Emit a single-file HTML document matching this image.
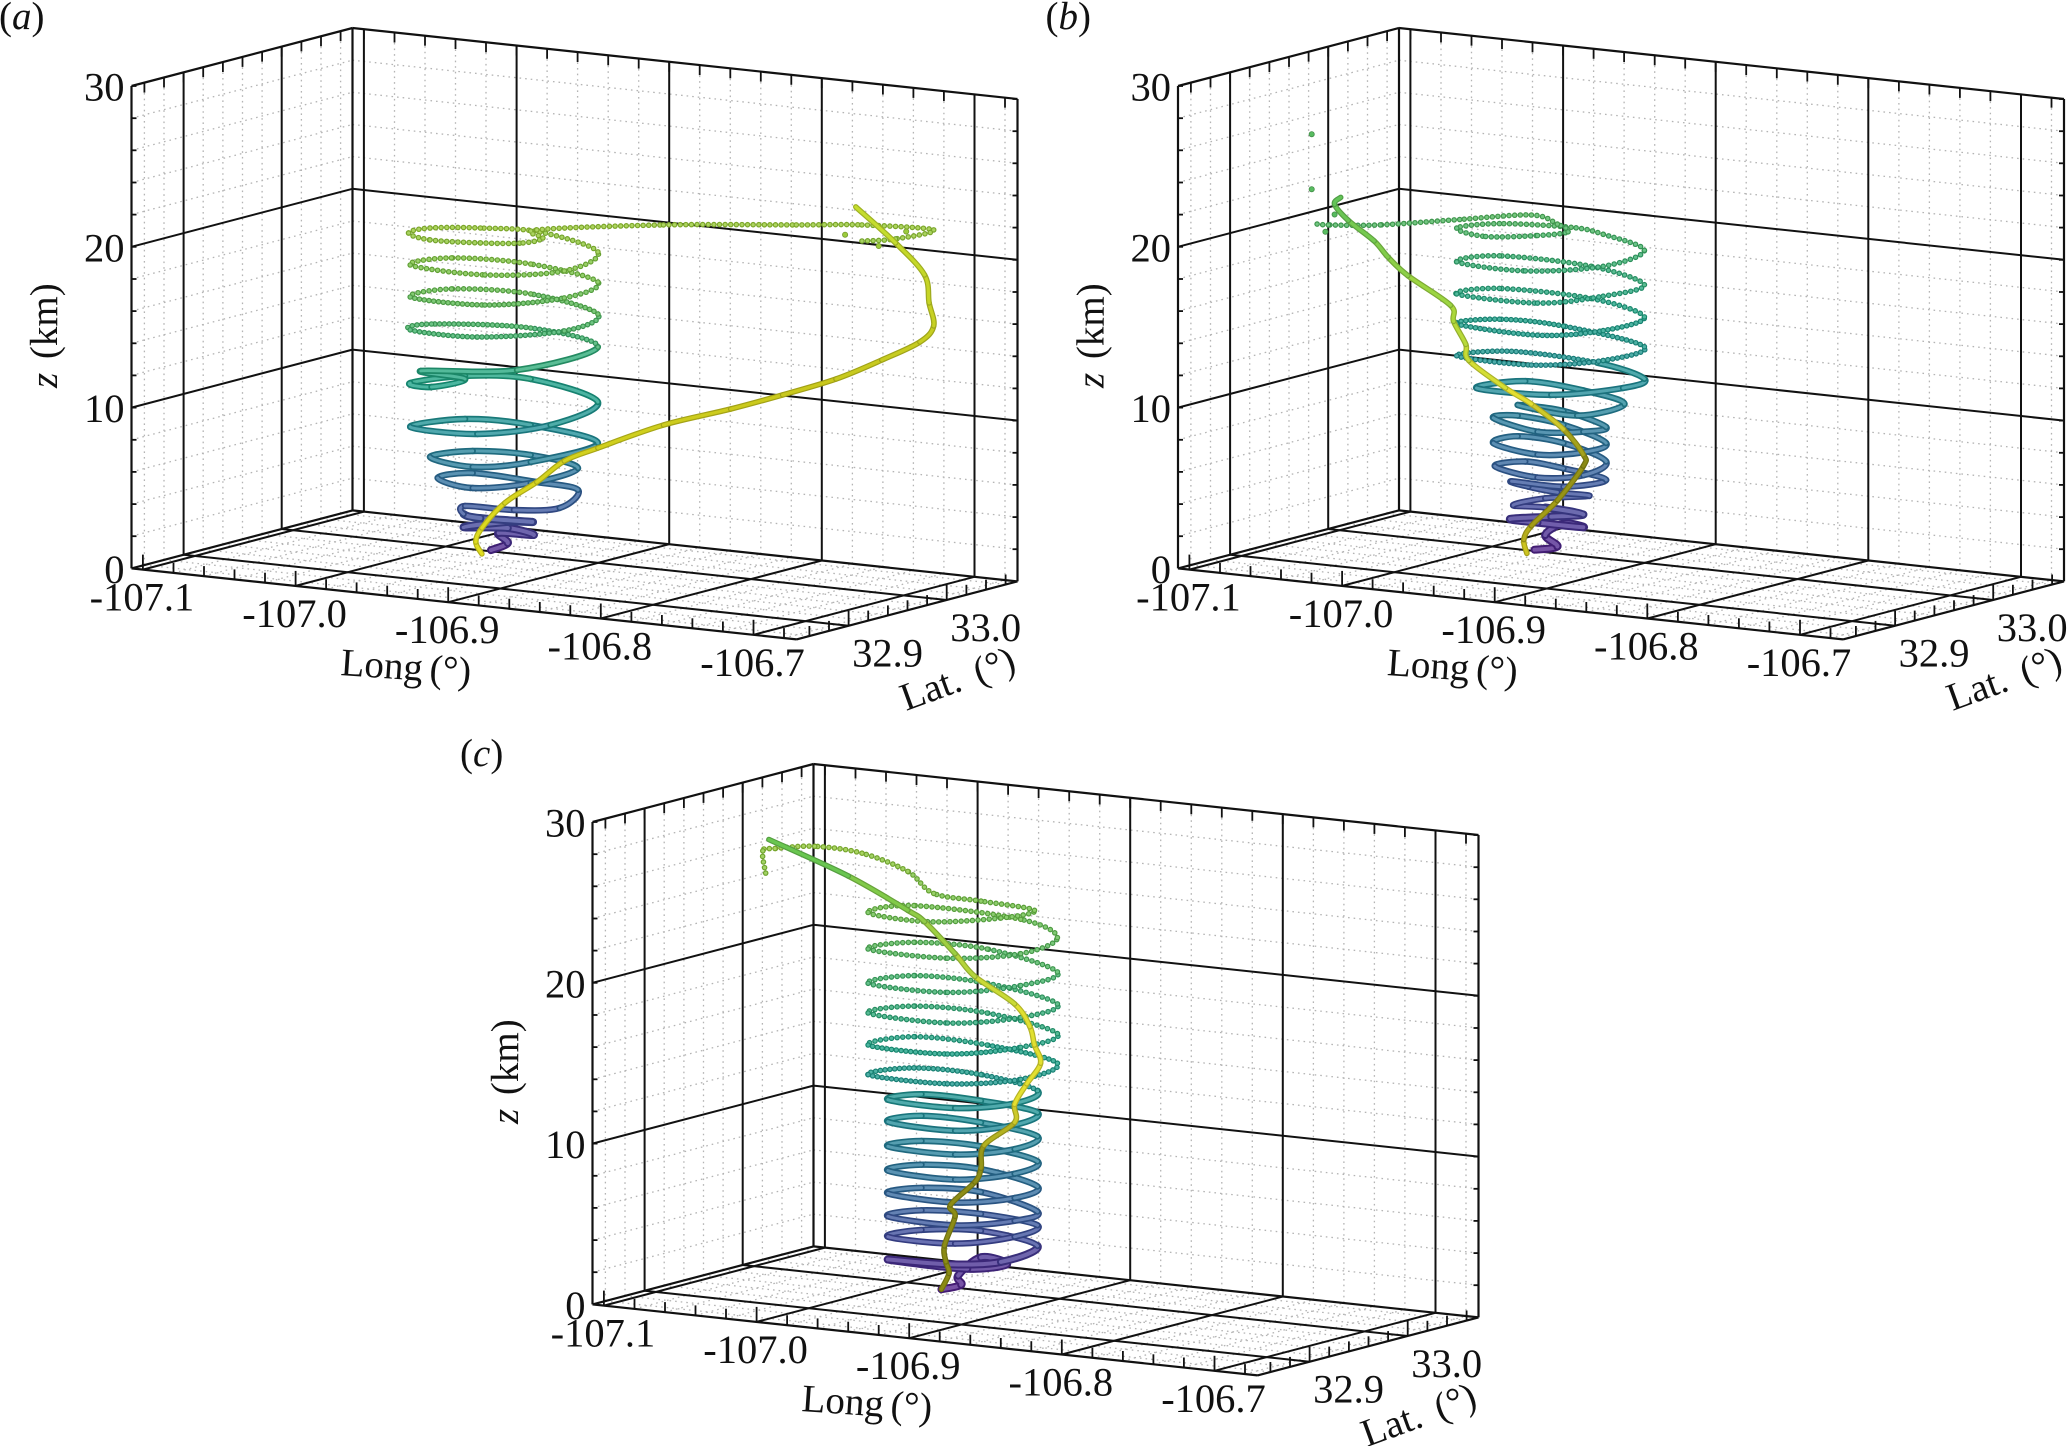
<!DOCTYPE html>
<html lang="en">
<head>
<meta charset="utf-8">
<title>Three 3D trajectory panels</title>
<style>
html,body{margin:0;padding:0;background:#fff;}
svg{display:block;}
text{font-family:"Liberation Serif","DejaVu Serif",serif;fill:#111;}
.tick-label{font-size:40.5px;}
.axis-title{font-size:39px;}
.panel-label{font-size:39px;}
.it{font-style:italic;}
</style>
</head>
<body>
<svg id="chart" xmlns="http://www.w3.org/2000/svg" width="2067" height="1446" viewBox="0 0 2067 1446">
  <rect x="0" y="0" width="2067" height="1446" fill="#fff"/>

  <g id="panel-a" transform="translate(0,0)">
    <text class="panel-label" x="-1" y="29">(<tspan class="it">a</tspan>)</text>
    <text class="axis-title" transform="translate(57,388) rotate(-90)" word-spacing="4"><tspan class="it">z</tspan> (km)</text>
    <text class="axis-title" transform="translate(340,675) rotate(4)" word-spacing="-3">Long (°)</text>
    <text class="axis-title" transform="translate(906,711) rotate(-20)" word-spacing="6">Lat. (°)</text>
  </g>

  <g id="panel-b" transform="translate(1046.5,0)">
    <text class="panel-label" x="-1" y="29">(<tspan class="it">b</tspan>)</text>
    <text class="axis-title" transform="translate(57,388) rotate(-90)" word-spacing="4"><tspan class="it">z</tspan> (km)</text>
    <text class="axis-title" transform="translate(340,675) rotate(4)" word-spacing="-3">Long (°)</text>
    <text class="axis-title" transform="translate(906,711) rotate(-20)" word-spacing="6">Lat. (°)</text>
  </g>

  <g id="panel-c" transform="translate(461,736)">
    <text class="panel-label" x="-1" y="30">(<tspan class="it">c</tspan>)</text>
    <text class="axis-title" transform="translate(57,388) rotate(-90)" word-spacing="4"><tspan class="it">z</tspan> (km)</text>
    <text class="axis-title" transform="translate(340,675) rotate(4)" word-spacing="-3">Long (°)</text>
    <text class="axis-title" transform="translate(906,711) rotate(-20)" word-spacing="6">Lat. (°)</text>
  </g>
</svg>

<script>
// ---------- axis tick values ----------
const lonTicks = [-107.1, -107.0, -106.9, -106.8, -106.7];
const lonTickLabels = ['-107.1', '-107.0', '-106.9', '-106.8', '-106.7'];
const latTicks = [32.9, 33.0];
const latTickLabels = ['32.9', '33.0'];
const zTicks = [0, 10, 20, 30];
const zTickLabels = ['0', '10', '20', '30'];

// ---------- panel (a) series: longitude (deg) and height (km), read along the mid-latitude plane ----------
const aHelixLon = [-106.944,-106.933,-106.939,-106.916,-106.933,-106.962,-106.933,-106.917,-106.951,-106.962,-106.961,-106.929,-106.899,-106.887,-106.914,-106.956,-106.979,-106.956,-106.918,-106.887,-106.918,-106.956,-106.984,-106.956,-106.918,-106.874,-106.918,-106.961,-106.997,-106.953,-106.905,-106.874,-106.918,-106.961,-106.997,-106.983,-106.961,-106.990,-106.927,-106.874,-106.918,-106.983,-106.997,-106.953,-106.896,-106.874,-106.918,-106.970,-106.997,-106.948,-106.896,-106.874,-106.918,-106.970,-106.997,-106.948,-106.896,-106.874,-106.912,-106.951,-106.984,-106.998,-106.984,-106.951,-106.923,-106.910,-106.914,-106.831,-106.744,-106.701,-106.654,-106.679,-106.701];
const aHelixZ = [1.14,1.58,2.20,2.08,2.51,2.57,2.89,2.89,3.13,3.38,3.88,3.63,3.76,4.88,5.37,5.93,5.62,5.00,5.31,6.24,7.05,7.30,6.93,6.31,6.62,7.80,8.92,9.29,8.80,8.36,8.92,10.35,11.78,11.97,11.53,11.28,11.78,12.28,12.34,13.77,14.95,15.20,14.83,14.39,14.77,15.82,17.07,17.38,16.88,16.38,16.82,17.81,18.93,19.31,18.87,18.25,18.50,19.68,20.92,21.17,21.17,20.86,20.43,20.24,20.24,20.55,21.05,21.36,21.36,21.36,21.05,20.49,20.36];
const aTrackLon = [-106.950,-106.954,-106.950,-106.935,-106.914,-106.896,-106.874,-106.831,-106.787,-106.753,-106.718,-106.688,-106.663,-106.654,-106.657,-106.660,-106.679,-106.705];
const aTrackZ = [0.90,1.64,2.51,4.07,5.37,6.68,7.49,8.92,9.91,10.79,11.78,12.96,14.08,15.08,16.51,18.25,20.24,22.48];
const aStrayLon = [-106.690,-106.712,-106.672];
const aStrayZ = [20.05,20.75,20.95];

// ---------- panel (b) series ----------
const bHelixLon = [-106.946,-106.931,-106.939,-106.927,-106.914,-106.944,-106.962,-106.935,-106.914,-106.939,-106.960,-106.939,-106.910,-106.931,-106.950,-106.961,-106.927,-106.899,-106.927,-106.952,-106.972,-106.944,-106.914,-106.899,-106.927,-106.957,-106.973,-106.944,-106.914,-106.899,-106.927,-106.957,-106.973,-106.944,-106.914,-106.899,-106.927,-106.957,-106.918,-106.887,-106.914,-106.952,-106.984,-106.935,-106.888,-106.874,-106.905,-106.961,-106.997,-106.948,-106.901,-106.874,-106.927,-106.969,-106.997,-106.944,-106.901,-106.874,-106.909,-106.969,-106.997,-106.944,-106.901,-106.874,-106.909,-106.969,-106.997,-106.952,-106.901,-106.874,-106.901,-106.922,-106.969,-106.997,-106.978,-106.944,-106.924,-106.931,-106.948,-106.995,-107.047,-107.081,-107.090];
const bHelixZ = [1.16,1.36,2.08,2.79,2.56,2.85,3.08,3.22,3.36,3.79,3.93,4.36,4.51,4.73,5.08,5.42,5.08,5.50,6.22,6.65,6.36,5.65,5.79,6.65,7.79,8.22,7.79,7.08,7.22,7.79,8.93,9.50,9.36,8.50,8.50,8.79,9.79,10.16,9.50,10.22,11.07,11.65,11.22,10.79,11.22,11.79,12.79,13.50,13.22,12.65,12.93,13.79,15.07,15.50,15.21,14.50,14.79,15.64,16.79,17.41,17.07,16.50,16.93,17.64,18.79,19.44,19.07,18.50,18.79,19.78,20.78,21.21,21.44,21.16,20.64,20.70,20.93,21.41,21.98,21.70,21.36,21.36,21.44];
const bTrackLon = [-106.951,-106.953,-106.948,-106.931,-106.914,-106.914,-106.927,-106.948,-106.965,-106.989,-106.991,-106.999,-107.001,-107.029,-107.042,-107.051,-107.068,-107.077,-107.073];
const bTrackZ = [0.93,1.79,2.65,4.22,6.36,7.08,8.65,10.22,11.22,12.93,13.93,15.36,16.36,18.21,19.36,20.36,21.64,22.64,23.07];
const bStrayLon = [-107.083,-107.077,-107.092,-107.092];
const bStrayZ = [20.93,22.01,23.58,27.00];

// ---------- panel (c) series ----------
const cHelixLon = [-106.951,-106.938,-106.940,-106.925,-106.908,-106.934,-106.986,-106.947,-106.912,-106.888,
 -106.925,-106.964,-106.986,-106.942,-106.903,-106.888,
 -106.925,-106.964,-106.986,-106.942,-106.903,-106.888,
 -106.925,-106.964,-106.986,-106.942,-106.903,-106.888,
 -106.925,-106.964,-106.986,-106.942,-106.903,-106.888,
 -106.925,-106.964,-106.986,-106.942,-106.903,-106.888,
 -106.925,-106.964,-106.986,-106.942,-106.903,-106.888,
 -106.925,-106.964,-106.986,-106.942,-106.903,-106.888,
 -106.925,-106.969,-106.999,-106.947,-106.899,-106.875,
 -106.921,-106.969,-106.999,-106.947,-106.899,-106.875,
 -106.921,-106.969,-106.999,-106.947,-106.899,-106.875,
 -106.921,-106.969,-106.999,-106.947,-106.899,-106.875,
 -106.921,-106.969,-106.999,-106.947,-106.899,-106.875,
 -106.899,-106.969,-106.999,-106.960,-106.912,-106.890,
 -106.925,-106.956,-106.973,-107.003,-107.034,-107.060,-107.068,-107.066];
const cHelixZ = [0.94,1.22,1.79,2.93,2.50,2.22,2.79,2.50,2.64,3.64,
 4.58,4.63,4.21,3.78,4.21,4.92,
 5.63,5.85,5.48,4.92,5.20,5.77,
 6.99,7.25,6.90,6.34,6.62,7.33,
 8.41,8.69,8.32,7.76,8.13,8.89,
 9.83,10.17,9.83,9.32,9.66,10.45,
 11.31,11.73,11.36,10.80,11.16,11.93,
 12.67,13.07,12.73,12.21,12.50,13.29,
 14.29,14.71,14.29,13.72,14.00,15.00,
 16.13,16.65,16.13,15.57,15.99,16.84,
 18.12,18.55,18.12,17.50,17.84,18.69,
 19.97,20.45,19.97,19.40,19.83,20.68,
 22.10,22.52,22.10,21.53,21.81,22.81,
 23.95,24.80,24.37,23.80,24.03,24.51,
 25.08,25.56,26.93,28.06,28.49,28.35,28.20,26.78];
const cTrackLon = [-106.951,-106.946,-106.948,-106.949,-106.942,-106.945,-106.929,-106.925,-106.923,-106.903,-106.903,-106.895,-106.886,-106.890,-106.893,-106.903,-106.929,-106.942,-106.962,-106.973,-107.012,-107.064];
const cTrackZ = [0.94,1.93,2.64,3.64,5.48,6.19,7.61,8.47,9.89,11.31,12.44,13.72,15.00,16.13,17.27,18.69,20.39,21.81,23.80,24.51,26.64,28.91];
const cStrayLon = [];
const cStrayZ = [];

// ---------- axis functions ----------
const LON0 = -107.1075, LON1 = -106.6718, LAT0 = 32.8469, LAT1 = 33.0721, ZTOP = 30;
function uOf(lon){ return (lon - LON0) / (LON1 - LON0); }
function vOf(lat){ return (lat - LAT0) / (LAT1 - LAT0); }
function px(lon, lat){ return 131.5 + uOf(lon) * 665 + vOf(lat) * 221; }
function py(lon, lat, z){ return 568.4 + uOf(lon) * 71 - vOf(lat) * 58 - z * 16.08; }
// series are located on a vertical view plane at mid-latitude
function trackX(lon){ return 131.5 + uOf(lon) * 665 + 110; }
function trackY(z){ return 568.4 - z * 16.08; }

// ---------- colour helpers ----------
const helixStops = [[0,'#5a1a88'],[0.08,'#4a2a90'],[0.14,'#3f4a9c'],[0.25,'#2f6f9e'],[0.4,'#1f8f98'],[0.55,'#1aa285'],[0.7,'#3fb267'],[0.85,'#6cc044'],[1,'#96c932']];
function rgb(h){ return [parseInt(h.slice(1,3),16),parseInt(h.slice(3,5),16),parseInt(h.slice(5,7),16)]; }
function mix(a,b,t){
  const A = rgb(a), B = rgb(b);
  const c = [0,1,2].map(function(i){ return Math.round(A[i] + (B[i]-A[i])*t); });
  return '#' + c.map(function(n){ return ('0'+n.toString(16)).slice(-2); }).join('');
}
function ramp(stops, f){
  if (f <= stops[0][0]) return stops[0][1];
  for (let i = 1; i < stops.length; i++){
    if (f <= stops[i][0]){
      return mix(stops[i-1][1], stops[i][1], (f-stops[i-1][0])/(stops[i][0]-stops[i-1][0]));
    }
  }
  return stops[stops.length-1][1];
}

// ---------- svg helpers ----------
const NS = 'http://www.w3.org/2000/svg';
function seg(g, x1, y1, x2, y2, stroke, width, dash){
  const l = document.createElementNS(NS, 'line');
  l.setAttribute('x1', x1.toFixed(1));
  l.setAttribute('y1', y1.toFixed(1));
  l.setAttribute('x2', x2.toFixed(1));
  l.setAttribute('y2', y2.toFixed(1));
  l.setAttribute('stroke', stroke);
  l.setAttribute('stroke-width', width);
  if (dash) l.setAttribute('stroke-dasharray', dash);
  g.appendChild(l);
  return l;
}
function minorGrid(g, a, b){
  const l = seg(g, a[0], a[1], b[0], b[1], '#b4b4b4', 1.3, '1.6 4');
  
  
}
function majorGrid(g, a, b){
  const l = seg(g, a[0], a[1], b[0], b[1], '#111', 2);
  
  
}
function frameEdge(g, a, b){
  const l = seg(g, a[0], a[1], b[0], b[1], '#111', 2.2);
  
  
}
function tickMark(g, x, y, dx, dy){
  const l = seg(g, x, y, x + dx, y + dy, '#111', 1.8);
  
  
}
function tickText(g, x, y, anchor, label){
  const t = document.createElementNS(NS, 'text');
  t.setAttribute('class', 'tick-label');
  t.setAttribute('x', x.toFixed(1));
  t.setAttribute('y', y.toFixed(1));
  t.setAttribute('text-anchor', anchor);
  t.textContent = label;
  
  
  g.appendChild(t);
}
function P(lon, lat, z){ return [px(lon, lat), py(lon, lat, z)]; }
function isMajor(v, list){ return list.some(function(m){ return Math.abs(m - v) < 1e-6; }); }

function drawAxes(g){
  const grid = document.createElementNS(NS, 'g');
  
  
  g.insertBefore(grid, g.firstChild);

  const lonAll = [], latAll = [], zAll = [];
  for (let i = 0; i <= 21; i++){ const v = +(-107.1 + i * 0.02).toFixed(2); if (v <= LON1) lonAll.push(v); }
  for (let i = 0; i <= 10; i++){ const v = +(32.86 + i * 0.02).toFixed(2); if (v <= LAT1) latAll.push(v); }
  for (let i = 0; i <= 15; i++){ zAll.push(i * 2); }

  // minor dotted grid on the floor and the two walls
  lonAll.forEach(function(lon){
    if (isMajor(lon, lonTicks)) return;
    minorGrid(grid, P(lon, LAT0, 0), P(lon, LAT1, 0));
    minorGrid(grid, P(lon, LAT1, 0), P(lon, LAT1, ZTOP));
  });
  latAll.forEach(function(lat){
    if (isMajor(lat, latTicks)) return;
    minorGrid(grid, P(LON0, lat, 0), P(LON1, lat, 0));
    minorGrid(grid, P(LON0, lat, 0), P(LON0, lat, ZTOP));
  });
  zAll.forEach(function(z){
    if (isMajor(z, zTicks)) return;
    minorGrid(grid, P(LON0, LAT1, z), P(LON1, LAT1, z));
    minorGrid(grid, P(LON0, LAT0, z), P(LON0, LAT1, z));
  });

  // major solid grid
  lonTicks.forEach(function(lon){
    majorGrid(grid, P(lon, LAT0, 0), P(lon, LAT1, 0));
    majorGrid(grid, P(lon, LAT1, 0), P(lon, LAT1, ZTOP));
  });
  latTicks.forEach(function(lat){
    majorGrid(grid, P(LON0, lat, 0), P(LON1, lat, 0));
    majorGrid(grid, P(LON0, lat, 0), P(LON0, lat, ZTOP));
  });
  zTicks.forEach(function(z){
    if (z === 0 || z === ZTOP) return;
    majorGrid(grid, P(LON0, LAT1, z), P(LON1, LAT1, z));
    majorGrid(grid, P(LON0, LAT0, z), P(LON0, LAT1, z));
  });

  // frame
  frameEdge(grid, P(LON0, LAT0, 0), P(LON1, LAT0, 0));
  frameEdge(grid, P(LON1, LAT0, 0), P(LON1, LAT1, 0));
  frameEdge(grid, P(LON1, LAT1, 0), P(LON0, LAT1, 0));
  frameEdge(grid, P(LON0, LAT1, 0), P(LON0, LAT0, 0));
  frameEdge(grid, P(LON0, LAT0, 0), P(LON0, LAT0, ZTOP));
  frameEdge(grid, P(LON0, LAT1, 0), P(LON0, LAT1, ZTOP));
  frameEdge(grid, P(LON1, LAT1, 0), P(LON1, LAT1, ZTOP));
  frameEdge(grid, P(LON0, LAT0, ZTOP), P(LON0, LAT1, ZTOP));
  frameEdge(grid, P(LON0, LAT1, ZTOP), P(LON1, LAT1, ZTOP));

  // ticks
  lonAll.forEach(function(lon){
    const major = isMajor(lon, lonTicks);
    const f = P(lon, LAT0, 0);
    tickMark(grid, f[0], f[1], 0, major ? -15 : -10);
    const t = P(lon, LAT1, ZTOP);
    tickMark(grid, t[0], t[1], 0, 10);
  });
  latAll.forEach(function(lat){
    const major = isMajor(lat, latTicks);
    const f = P(LON1, lat, 0);
    tickMark(grid, f[0], f[1], 0, major ? -15 : -10);
    const t = P(LON0, lat, ZTOP);
    tickMark(grid, t[0], t[1], 0, 10);
  });
  zAll.forEach(function(z){
    const l = P(LON0, LAT0, z);
    tickMark(grid, l[0], l[1], 5, 0);
    const r = P(LON1, LAT1, z);
    tickMark(grid, r[0], r[1], -5, 0);
  });

  // tick labels
  lonTicks.forEach(function(lon, i){
    const p = P(lon, LAT0, 0);
    tickText(g, p[0] - 1, p[1] + 41, 'middle', lonTickLabels[i]);
  });
  latTicks.forEach(function(lat, i){
    const p = P(LON1, lat, 0);
    tickText(g, p[0] + 39, p[1] + 41, 'middle', latTickLabels[i]);
  });
  zTicks.forEach(function(z, i){
    const p = P(LON0, LAT0, z);
    tickText(g, p[0] - 7, p[1] + 14.6, 'end', zTickLabels[i]);
  });
}

// Smooth path piece through neighbouring samples
function piece(pts, i){
  const p0 = pts[Math.max(i-1,0)], p1 = pts[i], p2 = pts[i+1], p3 = pts[Math.min(i+2,pts.length-1)];
  const c1x = p1[0] + (p2[0]-p0[0])/6, c1y = p1[1] + (p2[1]-p0[1])/6;
  const c2x = p2[0] - (p3[0]-p1[0])/6, c2y = p2[1] - (p3[1]-p1[1])/6;
  return 'M' + p1[0].toFixed(1) + ' ' + p1[1].toFixed(1) +
    'C' + c1x.toFixed(1) + ' ' + c1y.toFixed(1) + ' ' + c2x.toFixed(1) + ' ' + c2y.toFixed(1) + ' ' + p2[0].toFixed(1) + ' ' + p2[1].toFixed(1);
}
function tube(g, d, color, width, dash){
  const e = document.createElementNS(NS, 'path');
  e.setAttribute('d', d);
  e.setAttribute('fill', 'none');
  e.setAttribute('stroke', color);
  e.setAttribute('stroke-width', width);
  e.setAttribute('stroke-linecap', 'round');
  if (dash) e.setAttribute('stroke-dasharray', dash);
  g.appendChild(e);
  return e;
}

function drawHelix(g, lons, zs, colorMax, dotFrom){
  const group = document.createElementNS(NS, 'g');
  
  
  g.appendChild(group);
  const pts = lons.map(function(lon, i){ return [trackX(lon), trackY(zs[i])]; });
  for (let i = 0; i < pts.length - 1; i++){
    const mz = (zs[i] + zs[i+1]) / 2;
    const col = ramp(helixStops, mz / colorMax);
    const dash = mz >= dotFrom ? '0 ' + (mz >= dotFrom + 3 ? 5.6 : 4.8) : null;
    const base = mz < 3.6;
    const d = piece(pts, i);
    const under = tube(group, d, mix(col, '#000000', 0.18), dash ? 5.6 : (base ? 8 : 6.4), dash);
    
    
    const over = tube(group, d, mix(col, '#ffffff', 0.22), dash ? 3.2 : (base ? 4 : 3), dash);
    
    
  }
}

function drawTrack(g, lons, zs, stops, zMax){
  const group = document.createElementNS(NS, 'g');
  
  
  g.appendChild(group);
  const pts = lons.map(function(lon, i){ return [trackX(lon), trackY(zs[i])]; });
  for (let i = 0; i < pts.length - 1; i++){
    const mz = (zs[i] + zs[i+1]) / 2;
    const col = ramp(stops, mz / zMax);
    const d = piece(pts, i);
    const under = tube(group, d, mix(col, '#000000', 0.2), 5.6);
    
    
    const over = tube(group, d, col, 3.2);
    
    
  }
}

function drawStrays(g, lons, zs, color){
  lons.forEach(function(lon, i){
    const c = document.createElementNS(NS, 'circle');
    c.setAttribute('cx', trackX(lon).toFixed(1));
    c.setAttribute('cy', trackY(zs[i]).toFixed(1));
    c.setAttribute('r', 2.6);
    c.setAttribute('fill', color);
    c.setAttribute('stroke', mix(color, '#000000', 0.25));
    c.setAttribute('stroke-width', 0.8);
    
    
    g.appendChild(c);
  });
}

const trackStopsA = [[0,'#e4e020'],[0.5,'#c8c81c'],[1,'#c4e030']];
const trackStopsB = [[0,'#f0e628'],[0.12,'#a8a018'],[0.3,'#8a8a14'],[0.45,'#e8e030'],[0.7,'#a8d83c'],[1,'#62c458']];
const trackStopsC = [[0,'#8a8a14'],[0.3,'#8e8e16'],[0.45,'#e4e030'],[0.62,'#e0e030'],[0.78,'#a0d040'],[1,'#5cc454']];

const gA = document.getElementById('panel-a');
const gB = document.getElementById('panel-b');
const gC = document.getElementById('panel-c');

drawAxes(gA);
drawHelix(gA, aHelixLon, aHelixZ, 21, 14);
drawStrays(gA, aStrayLon, aStrayZ, '#9ccc3c');
drawTrack(gA, aTrackLon, aTrackZ, trackStopsA, 23);

drawAxes(gB);
drawHelix(gB, bHelixLon, bHelixZ, 29, 12.5);
drawStrays(gB, bStrayLon, bStrayZ, '#58bc60');
drawTrack(gB, bTrackLon, bTrackZ, trackStopsB, 23);

drawAxes(gC);
drawHelix(gC, cHelixLon, cHelixZ, 29, 13);
drawStrays(gC, cStrayLon, cStrayZ, '#58bc60');
drawTrack(gC, cTrackLon, cTrackZ, trackStopsC, 29);
</script>
</body>
</html>
